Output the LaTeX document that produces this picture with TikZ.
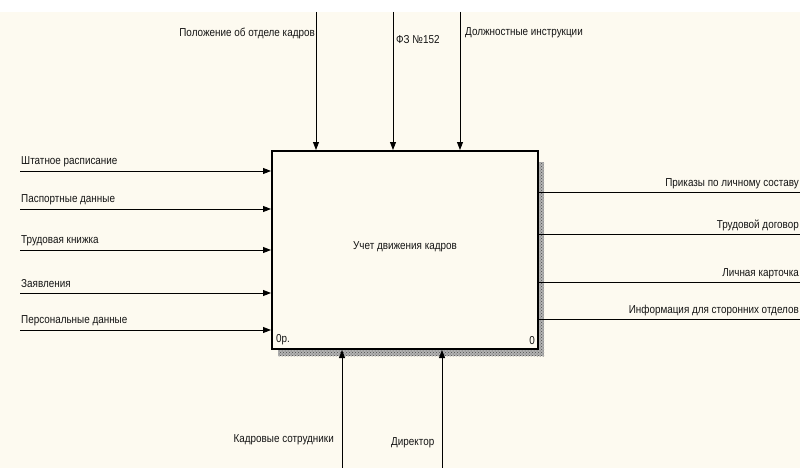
\documentclass[tikz,border=0pt]{standalone}
\usepackage{fontspec}
\setmainfont[FakeStretch=0.86]{Liberation Sans}
\usetikzlibrary{arrows.meta,patterns}
\definecolor{paper}{RGB}{253,250,240}
\tikzset{
  x=1pt, y=-1pt,
  lbl/.style={font=\fontsize{11.5}{13}\selectfont, inner sep=1pt, text=black!92},
  arr/.style={line width=0.9pt, -{Triangle[length=8pt,width=6pt]}},
  plain/.style={line width=0.9pt},
  act/.style={draw, line width=2pt, fill=paper, minimum width=266pt, minimum height=198pt, inner sep=0pt, anchor=north west},
  shade/.style={fill=black!30, postaction={pattern=crosshatch dots, pattern color=black!70}}
}
\begin{document}
\begin{tikzpicture}
\useasboundingbox (0,0) rectangle (800,468);
\fill[white] (0,0) rectangle (800,12);
\fill[paper] (0,12) rectangle (800,468);
% shadow of the activity box
\path[shade] (537,162) rectangle (544,356);
\path[shade] (278,348) rectangle (544,356);
% activity box
\node[act] (P) at (271,150) {};
\node[lbl] (title) at (405,247) {Учет движения кадров};
\node[lbl, anchor=south west] (num) at ([xshift=4pt,yshift=4pt]P.south west) {0р.};
\node[lbl, anchor=south east] (idx) at ([xshift=-3pt,yshift=4pt]P.south east) {0};
% controls
\coordinate (c1) at (316,12);
\coordinate (c2) at (393,12);
\coordinate (c3) at (460,12);
\draw[arr] (c1) -- (c1 |- P.north);
\draw[arr] (c2) -- (c2 |- P.north);
\draw[arr] (c3) -- (c3 |- P.north);
\node[lbl, anchor=east] (cl1) at (316,33) {Положение об отделе кадров};
\node[lbl, anchor=west] (cl2) at (395,40) {ФЗ №152};
\node[lbl, anchor=west] (cl3) at (464,33) {Должностные инструкции};
% inputs
\foreach \y/\t/\n in {171/Штатное расписание/1, 209/Паспортные данные/2, 250/Трудовая книжка/3, 293/Заявления/4, 330/Персональные данные/5}{
  \coordinate (i\n) at (20,\y);
  \draw[arr] (i\n) -- (i\n -| P.west);
  \node[lbl, anchor=west] (il\n) at ([yshift=9pt]i\n) {\t};
}
% outputs
\foreach \y/\t/\n in {192/Приказы по личному составу/1, 234/Трудовой договор/2, 282/Личная карточка/3, 319/Информация для сторонних отделов/4}{
  \coordinate (o\n) at (800,\y);
  \draw[plain] (o\n -| P.east) -- (o\n);
  \node[lbl, anchor=east] (ol\n) at ([yshift=8.5pt]o\n) {\t};
}
% mechanisms
\coordinate (m1) at (342,468);
\coordinate (m2) at (442,468);
\draw[arr] (m1) -- (m1 |- P.south);
\draw[arr] (m2) -- (m2 |- P.south);
\node[lbl, anchor=east] (ml1) at (335,440) {Кадровые сотрудники};
\node[lbl, anchor=west] (ml2) at (390,443) {Директор};
\end{tikzpicture}
\end{document}
